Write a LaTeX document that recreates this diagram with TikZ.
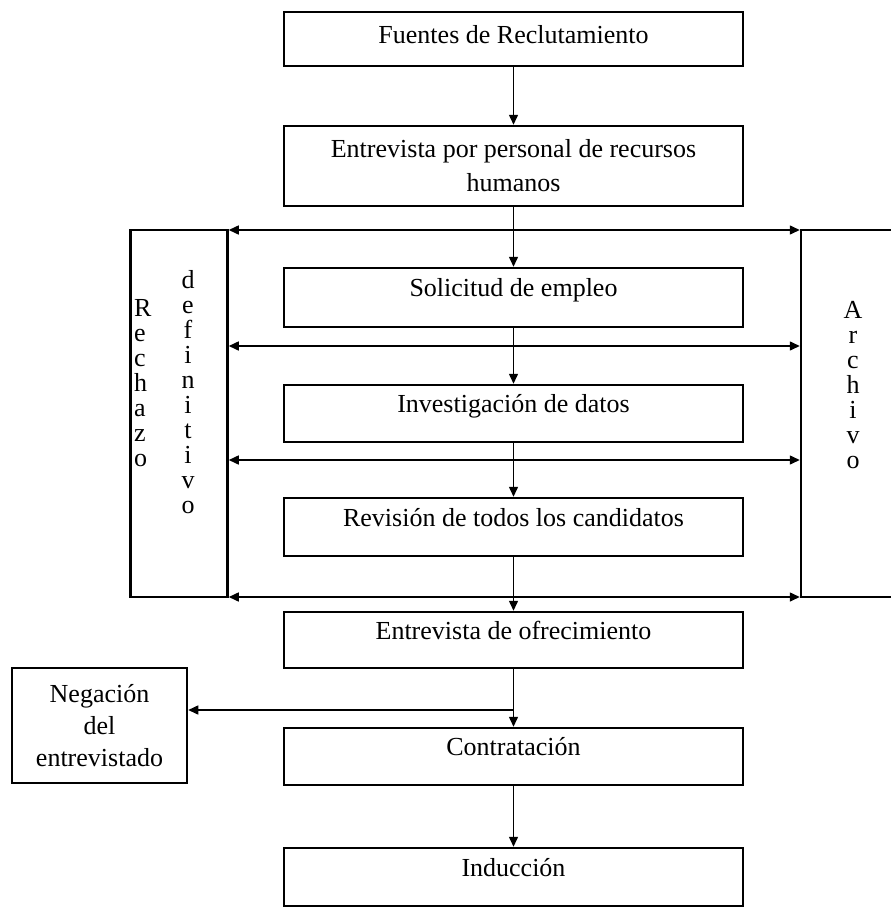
\documentclass[tikz,border=0pt]{standalone}
\usepackage{fontspec}
\setmainfont{Liberation Serif}
\usetikzlibrary{arrows.meta}
\newcommand{\columna}[5]{%
  % 竖排文字: #1---名称前缀, #2---横坐标, #3---起始纵坐标, #4---锚点, #5---字母
  \foreach \l [count=\i] in {#5} {
    \node[letra, anchor=#4] (#1\i) at (#2, #3+25*\i) {\l};
  }
}

\begin{document}
\begin{tikzpicture}[
  x=1pt, y=-1pt,
  font=\fontsize{26}{34}\selectfont,
  >={Triangle[length=10pt, width=9pt]},
  caja/.style={draw, line width=2.5pt, minimum width=459pt, minimum height=57pt,
    inner sep=0pt, align=center},
  caja1/.style={caja, text height=18pt, text depth=20pt},
  lado/.style={draw, line width=2.5pt, minimum height=367pt, inner sep=0pt},
  letra/.style={inner sep=0pt, text height=18pt, text depth=6pt},
  flecha/.style={->, line width=1.5pt},
  ]
  \useasboundingbox (0,0) rectangle (891,918);
  \clip (0,0) rectangle (891,918);

  % 主流程框
  \node[caja, minimum height=54pt, text height=18pt, text depth=10pt] (fuentes)
    at (513.5, 39) {Fuentes de Reclutamiento};
  \node[caja, minimum height=80pt] (entrevista) at (513.5, 166)
    {Entrevista por personal de recursos\\humanos};
  \node[caja1, minimum height=59pt] (solicitud) at (513.5, 297.5) {Solicitud de empleo};
  \node[caja1] (investigacion) at (513.5, 413.5) {Investigación de datos};
  \node[caja1, minimum height=58pt] (revision) at (513.5, 527)
    {Revisión de todos los candidatos};
  \node[caja1, minimum height=56pt] (ofrecimiento) at (513.5, 640)
    {Entrevista de ofrecimiento};
  \node[caja1] (contratacion) at (513.5, 756.5) {Contratación};
  \node[caja1, minimum height=58pt] (induccion) at (513.5, 877) {Inducción};

  % 左侧否定框
  \node[draw, line width=2.5pt, minimum width=175pt, minimum height=115pt,
    inner sep=0pt, align=center, font=\fontsize{26}{32}\selectfont] (negacion)
    at (99.5, 725.5) {Negación\\del\\entrevistado};

  % 两侧的竖框
  \node[lado, minimum width=97pt] (rechazo) at (179, 413.5) {};
  \node[lado, minimum width=108pt] (archivo) at (855, 413.5) {};
  \columna{rch}{134}{285}{west}{R,e,c,h,a,z,o}
  \columna{def}{188}{257}{center}{d,e,f,i,n,i,t,i,v,o}
  \columna{arc}{853}{287}{center}{A,r,c,h,i,v,o}

  % 双向水平线
  \foreach \n/\y in {1/230, 2/346, 3/460, 4/597} {
    \coordinate (h\n) at (513.5, \y);
    \draw[<->, line width=1.5pt] (rechazo.east |- h\n) -- (archivo.west |- h\n);
  }

  % 竖向箭头
  \draw[flecha] (fuentes) -- (entrevista);
  \draw[flecha] (entrevista) -- (solicitud);
  \draw[flecha] (solicitud) -- (investigacion);
  \draw[flecha] (investigacion) -- (revision);
  \draw[flecha] (revision) -- (ofrecimiento);
  \draw[flecha] (ofrecimiento) -- (contratacion);
  \draw[flecha] (contratacion) -- (induccion);

  % 分支到否定框
  \coordinate (rama) at (513.5, 710);
  \draw[flecha] (rama) -- (negacion.east |- rama);
\end{tikzpicture}
\end{document}
